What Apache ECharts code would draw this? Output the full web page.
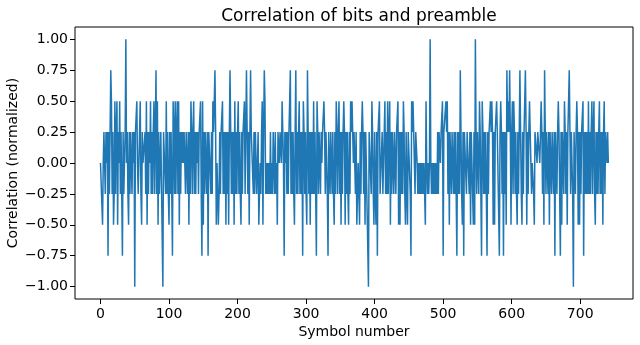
<!DOCTYPE html>
<html>
<head>
<meta charset="utf-8">
<script src="https://cdn.jsdelivr.net/npm/echarts@6/dist/echarts.min.js"></script>
<style>
html,body{margin:0;padding:0;background:#fff;}
#c{width:640px;height:345px;}
</style>
</head>
<body>
<div id="c"></div>
<script>
const correlation = [
0,0,0,-.5,0,.25,.25,-.25,.25,0,
.25,-.75,.25,-.25,.25,.75,.5,-.25,.25,-.5,
-.25,.5,-.25,.25,.5,-.5,.25,0,.5,-.25,
.25,-.25,-.75,.25,-.25,0,.25,1,0,.25,
-.25,-.5,.25,-.25,.25,0,-.25,.25,0,.25,
-1,.25,.25,.5,0,-.25,-.25,.25,.5,-.25,
-.5,.25,0,0,0,.25,-.25,.5,-.5,.25,
-.25,.25,0,.5,-.25,.25,-.25,.25,.5,-.25,
.25,.75,-.25,.5,-.5,.25,-.25,0,.25,.25,
.25,-1,.25,.25,.25,-.25,.5,-.25,.25,-.25,
-.5,.25,-.25,.25,-.25,-.75,.5,.25,-.25,.5,
-.25,.25,.5,-.25,.5,-.5,.25,-.25,.25,0,
.25,0,.25,0,-.25,.25,0,-.25,.25,-.5,
.25,-.25,.5,.25,-.25,.25,.5,-.25,.25,-.25,
.25,0,.25,-.25,.25,.25,.5,-.25,-.75,.5,
-.5,.25,-.25,.25,.25,-.25,.25,-.75,.25,.25,
.25,-.25,.25,-.25,.5,.25,.5,.75,.25,-.5,
0,0,-.5,-.25,.25,-.25,.25,.25,.5,-.25,
.25,-.25,.25,-.5,.25,-.25,.25,-.5,.25,.75,
.25,-.25,.25,-.25,.25,-.5,.5,-.25,.25,-.25,
.25,.5,-.25,.25,-.25,-.5,.25,-.25,.25,.25,
.5,-.25,.25,.75,.25,-.25,.25,-.5,.25,.75,
.25,.25,.25,-.25,.25,-.25,.25,0,-.25,-.25,
.25,-.5,-.25,0,-.25,.25,.5,-.5,.25,.75,
.5,-.25,0,-.25,0,-.25,0,-.25,.25,-.25,
0,-.25,.25,0,-.25,.25,-.25,0,-.5,.25,
.25,0,.25,.25,0,.5,.25,0,-.75,.25,
0,.25,-.25,.25,-.25,.25,.5,.75,-.25,.25,
-.25,.25,-.25,-.5,.25,.75,-.25,.25,-.25,.25,
.5,-.25,.25,-.25,.25,-.75,.5,.25,-.25,.25,
-.25,-.5,.75,.25,-.25,.25,-.5,.25,-.25,.25,
-.25,.5,-.25,.25,-.25,-.75,.5,.25,-.25,.25,
.25,-.25,.25,0,.25,.25,.5,.25,-.25,.25,
.25,-.25,-.75,.25,.25,-.25,.25,.25,-.25,.25,
-.25,-.5,.25,-.25,.5,.25,-.25,.25,.5,-.25,
.25,-.5,.25,-.25,.25,.5,.25,-.5,.25,-.25,
.25,-.25,-.5,.25,-.25,.5,.25,.5,.25,0,
.25,.25,-.25,.25,-.5,-.25,0,-.25,-.5,.25,
-.25,.25,.5,.25,-.25,.25,-.5,.25,.25,.25,
.25,-1,.25,.25,.25,-.25,.5,.25,-.25,-.5,
.25,-.25,-.5,.25,-.75,.25,.25,.5,-.25,-.25,
-.25,.25,-.25,0,.25,.5,-.25,.25,-.25,.5,
-.25,.25,.5,-.5,.25,-.25,.25,.25,-.25,.25,
.25,-.25,.25,.25,.5,-.5,.25,-.5,.25,-.25,
.25,-.25,.5,.25,-.25,-.5,.25,-.25,-.5,.25,
.25,.25,-.25,-.75,.5,.25,.5,.25,.25,-.25,
.25,.25,0,-.25,0,-.25,0,-.25,0,-.25,
0,-.25,0,-.25,-.5,.5,0,-.25,0,-.25,
0,1,0,-.25,0,-.25,0,-.25,0,-.25,
0,-.25,.25,-.25,.25,.25,0,.25,.25,.5,
-.75,.25,.25,.25,.5,.25,.5,-.25,.25,-.5,
.25,.25,-.25,.25,0,-.25,.25,-.25,.25,-.25,
-.75,.25,-.25,.25,-.25,.75,.25,-.25,-.5,.25,
-.75,.25,.25,.25,-.25,.25,.25,.25,-.25,.25,
-.5,.25,.25,-.25,-.5,.25,-.5,1,.25,-.25,
.25,.25,-.25,.5,.25,-.25,-.75,.5,.25,-.25,
.25,-.25,.25,.25,-.75,.25,-.25,.25,.25,.5,
.25,.5,.25,-.5,.25,-.5,.25,.25,.5,.25,
.25,.25,-.75,.25,.5,.25,-.25,.25,-.75,.25,
-.25,.25,-.5,.75,.25,.5,.25,.75,.25,-.5,
.25,.5,-.25,.5,.25,-.25,.25,-.25,-.5,.25,
-.25,.25,.75,.25,-.25,-.5,.25,-.25,.25,.25,
.75,.25,-.5,.25,-.25,.25,.5,.25,0,-.25,
0,0,-.25,-.5,.25,.25,.25,0,.25,.25,
.25,0,.25,.5,.25,-.25,.25,-.5,.75,.25,
-.25,.25,.25,-.25,.25,-.5,.25,.25,-.25,.25,
.25,-.25,.25,-.75,.25,.25,-.25,.25,.5,.25,
-.25,-.75,.25,-.5,.25,.25,-.25,.5,.25,-.25,
.25,-.5,.25,.25,.75,.25,-.25,.25,.25,-.25,
-1,.25,.25,-.25,.25,.5,.25,-.5,.25,-.5,
.25,-.25,.25,.25,.5,-.75,.25,-.25,.25,-.25,
.25,-.25,.5,-.25,.25,-.25,.25,.5,-.25,.25,
.5,-.25,-.5,.25,-.25,.25,-.25,.25,.5,-.25,
.25,-.25,.25,-.5,.25,.5,-.25,.25,.25,0,
.25,0
];
const xTicks = [0,100,200,300,400,500,600,700];
const yTicks = [-1,-0.75,-0.5,-0.25,0,0.25,0.5,0.75,1];
const titleText = 'Correlation of bits and preamble';
const xName = 'Symbol number';
const yName = 'Correlation (normalized)';

const seriesData = correlation.map((v, i) => [i, v]);
const font = 'DejaVu Sans';
const chart = echarts.init(document.getElementById('c'), null, {renderer: 'canvas'});
chart.setOption({
  animation: false,
  backgroundColor: '#ffffff',
  title: {
    text: titleText,
    left: 354, textAlign: 'center', top: 3,
    textStyle: {fontFamily: font, fontSize: 17, fontWeight: 'normal', color: '#000'}
  },
  grid: {
    left: 75, top: 27, width: 558, height: 272,
    containLabel: false, outerBoundsMode: 'none',
    show: true, borderColor: '#000', borderWidth: 1, backgroundColor: 'transparent'
  },
  xAxis: {
    type: 'value', min: -37.2, max: 777,
    name: xName, nameLocation: 'middle', nameGap: 26, nameMoveOverlap: false,
    nameTextStyle: {fontFamily: font, fontSize: 14, color: '#000'},
    axisLine: {show: false, onZero: false},
    splitLine: {show: false},
    axisTick: {show: true, inside: false, length: 5, customValues: xTicks, lineStyle: {color: '#000', width: 1}},
    axisLabel: {customValues: xTicks, margin: 8, fontFamily: font, fontSize: 14, color: '#000'}
  },
  yAxis: {
    type: 'value', min: -1.1, max: 1.1,
    name: yName, nameLocation: 'middle', nameGap: 55, nameRotate: 90, nameMoveOverlap: false,
    nameTextStyle: {fontFamily: font, fontSize: 14, color: '#000'},
    axisLine: {show: false, onZero: false},
    splitLine: {show: false},
    axisTick: {show: true, inside: false, length: 5, customValues: yTicks, lineStyle: {color: '#000', width: 1}},
    axisLabel: {
      customValues: yTicks, margin: 7, fontFamily: font, fontSize: 14, color: '#000',
      formatter: v => (v < 0 ? '\u2212' : '') + Math.abs(v).toFixed(2)
    }
  },
  series: [{
    type: 'line',
    data: seriesData,
    showSymbol: false,
    symbol: 'none',
    sampling: null,
    lineStyle: {color: '#1f77b4', width: 1.5},
    itemStyle: {color: '#1f77b4'}
  }]
});
</script>
</body>
</html>
